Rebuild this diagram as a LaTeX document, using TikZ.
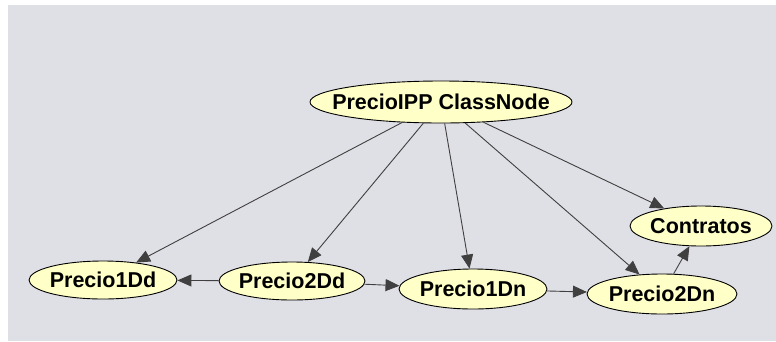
\documentclass[tikz,border=0pt]{standalone}
\usepackage{fontspec}
\setmainfont{Liberation Sans}
\usetikzlibrary{shapes.geometric,arrows.meta}
\definecolor{bgc}{RGB}{223,223,230}
\definecolor{nodefill}{RGB}{255,255,200}
\definecolor{edgec}{RGB}{64,64,64}
\tikzset{
  var/.style={ellipse, draw=black, line width=0.9pt, fill=nodefill, inner sep=0pt,
    font=\fontsize{21.5}{24}\selectfont\bfseries},
  link/.style={draw=edgec, line width=0.9pt, -{Triangle[length=14pt,width=12pt]}}
}
\newcommand\zw[1]{\makebox[0pt][c]{#1}}
\begin{document}
\begin{tikzpicture}[x=1pt,y=-1pt]
\useasboundingbox (0,0) rectangle (776,341);
\fill[white] (0,0) rectangle (776,341);
\fill[bgc] (8,5) rectangle (776,341);
\node[var, minimum width=262pt, minimum height=42pt] (ipp) at (441,102) {\zw{PrecioIPP ClassNode}};
\node[var, minimum width=148pt, minimum height=38pt] (p1dd) at (103,280) {\zw{Precio1Dd}};
\node[var, minimum width=146pt, minimum height=38pt] (p2dd) at (292,281) {\zw{Precio2Dd}};
\node[var, minimum width=148pt, minimum height=40pt] (p1dn) at (473,289) {\zw{Precio1Dn}};
\node[var, minimum width=150pt, minimum height=40pt] (p2dn) at (662,294) {\zw{Precio2Dn}};
\node[var, minimum width=142pt, minimum height=40pt] (con) at (701,226) {\zw{Contratos}};
\draw[link] (ipp) -- (p1dd);
\draw[link] (ipp) -- (p2dd);
\draw[link] (ipp) -- (p1dn);
\draw[link] (ipp) -- (p2dn);
\draw[link] (ipp) -- (con);
\draw[link] (p2dd) -- (p1dd);
\draw[link] (p2dd) -- (p1dn);
\draw[link] (p1dn) -- (p2dn);
\draw[link] (p2dn) -- (con);
\end{tikzpicture}
\end{document}
